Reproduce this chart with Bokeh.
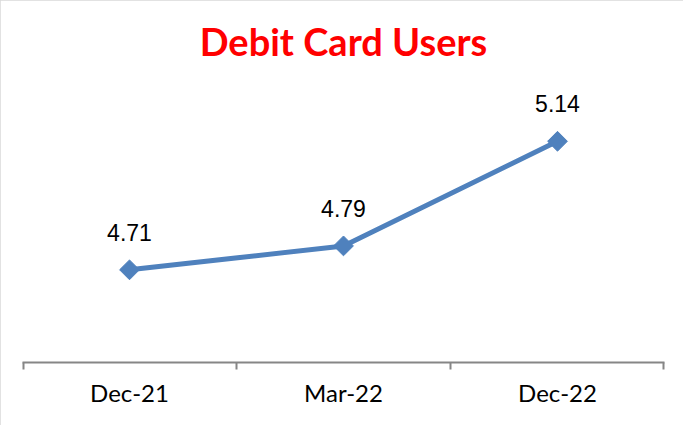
import math
from bokeh.plotting import figure
from bokeh.models import (FactorRange, Range1d, CategoricalAxis,
                          ColumnDataSource, LabelSet)
from bokeh.core.properties import value
from bokeh.embed import file_html
from bokeh.resources import INLINE

# ---- data ----
categories = ["Dec-21", "Mar-22", "Dec-22"]
values = [4.71, 4.79, 5.14]
value_labels = ["4.71", "4.79", "5.14"]
boundary_factors = ["b0", "b1", "b2", "b3"]

src = ColumnDataSource(data=dict(cat=categories, val=values, lbl=value_labels))

p = figure(width=683, height=425,
           x_range=FactorRange(*categories, range_padding=0),
           y_range=Range1d(4.4, 5.36),
           x_axis_location=None, y_axis_location=None,
           toolbar_location=None, output_backend="svg",
           min_border_left=22, min_border_right=19,
           min_border_top=75, min_border_bottom=63)

p.title.text = "Debit Card Users"
p.title.text_font = "Lato"
p.title.text_font_style = "bold"
p.title.text_font_size = "38px"
p.title.text_color = "#FF0000"
p.title.align = "center"
p.title.standoff = 24

p.outline_line_color = None
p.xgrid.visible = False
p.ygrid.visible = False
p.background_fill_color = "white"
p.border_fill_color = "white"
p.styles = {"outline": "2px solid #d9d9d9", "outline-offset": "-2px"}

# tick axis at category boundaries (4 factors, range trimmed by ~half a factor each side)
p.extra_x_ranges = {"bounds": FactorRange(*boundary_factors, range_padding=-0.495,
                                          range_padding_units="absolute")}
tick_axis = CategoricalAxis(x_range_name="bounds")
tick_axis.axis_line_color = "#868686"
tick_axis.axis_line_width = 2
tick_axis.major_tick_line_color = "#868686"
tick_axis.major_tick_line_width = 2
tick_axis.major_tick_in = 0
tick_axis.major_tick_out = 7
tick_axis.minor_tick_line_color = None
tick_axis.major_label_text_font_size = "1px"
tick_axis.major_label_text_color = None
tick_axis.major_label_standoff = 0
p.add_layout(tick_axis, "below")

cat_axis = CategoricalAxis()
cat_axis.axis_line_color = None
cat_axis.major_tick_line_color = None
cat_axis.minor_tick_line_color = None
cat_axis.major_label_text_font = "Lato"
cat_axis.major_label_text_font_size = "24px"
cat_axis.major_label_text_color = "black"
cat_axis.major_label_standoff = 2
p.add_layout(cat_axis, "below")

p.line(x="cat", y="val", source=src, line_width=5, line_color="#4F81BD")
p.scatter(x="cat", y="val", source=src, marker="square", angle=math.pi / 4,
          size=14, fill_color="#4F81BD", line_color="#4F81BD")

labels = LabelSet(x="cat", y="val", text="lbl", source=src, y_offset=29,
                  text_align="center", text_baseline="alphabetic",
                  text_font=value("Liberation Sans"), text_font_size=value("23px"),
                  text_color="black")
p.add_layout(labels)

open("out.html", "w").write(file_html(p, INLINE))
